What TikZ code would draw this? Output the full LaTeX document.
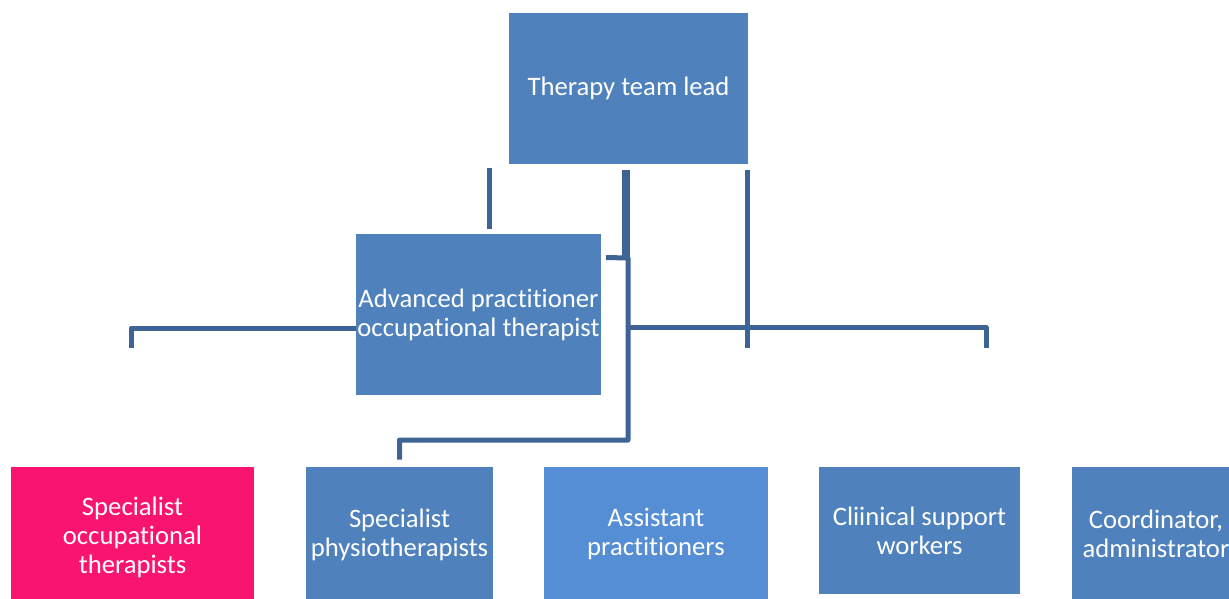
\documentclass[tikz,border=0pt]{standalone}
\usepackage{fontspec}
\setmainfont[Ligatures=NoCommon, RawFeature={-liga;-clig;-calt;-dlig}]{Carlito}
\definecolor{boxblue}{RGB}{79,129,189}
\definecolor{lightblue}{RGB}{85,142,213}
\definecolor{hotpink}{RGB}{249,20,112}
\definecolor{linkblue}{RGB}{62,100,150}

\tikzset{every picture/.style={line width=0.75pt}}
\tikzset{
	orgbox/.style={fill=boxblue, draw=none, text=white, align=center, inner sep=0pt, font=\fontsize{20}{21.75}\selectfont},
	link/.style={draw=linkblue, line width=3.75pt, line join=round},
}

\begin{document}
\begin{tikzpicture}[x=0.75pt,y=0.75pt,yscale=-1,xscale=1]
	\useasboundingbox (0,0) rectangle (1229,599);
	\clip (0,0) rectangle (1229,599);
	% Boxes
	\node [orgbox, minimum width=239*0.75pt, minimum height=151*0.75pt] (lead) at (628.5,88.5) {Therapy team lead};
	\node [orgbox, minimum width=245*0.75pt, minimum height=161*0.75pt] (adv) at (478.5,314.5) {Advanced practitioner\\occupational therapist};
	\node [orgbox, fill=hotpink, minimum width=243*0.75pt, minimum height=140*0.75pt] (specot) at (132.5,537) {Specialist\\occupational\\therapists};
	\node [orgbox, minimum width=187*0.75pt, minimum height=136*0.75pt] (physio) at (399.5,535) {Specialist\\physiotherapists};
	\node [orgbox, fill=lightblue, minimum width=224*0.75pt, minimum height=134*0.75pt] (assist) at (656,534) {Assistant\\practitioners};
	\node [orgbox, minimum width=201*0.75pt, minimum height=127*0.75pt] (clin) at (919.5,530.5) {Cliinical support\\workers};
	\node [orgbox, minimum width=168*0.75pt, minimum height=134*0.75pt] (coord) at (1156,534) {Coordinator,\\administrator};

	% Free ends of the connectors
	\coordinate (c1) at (489,168);
	\coordinate (c2) at (489,229);
	\coordinate (c3) at (626,170);
	\coordinate (c4) at (626,258);
	\coordinate (c5) at (606,257.5);
	\coordinate (c6) at (628,440);
	\coordinate (c7) at (747,170);
	\coordinate (c8) at (747,348);
	\coordinate (c9) at (986,348);
	\coordinate (c10) at (131,348);

	% Connectors
	\draw [link] (c1) -- (c2);
	\draw [link, line width=6.5pt] (c3) -- (c4);
	\draw [link, shorten >=5.25pt] (c5) -- (c4 -| c6) -- (c6) -| (physio.north);
	\draw [link] (c7) -- (c8);
	\draw [link] (c6 |- 0,327.5) -| (c9);
	\draw [link] (adv.west |- 0,328) -- (c10 |- 0,328) -- (c10);
\end{tikzpicture}
\end{document}
